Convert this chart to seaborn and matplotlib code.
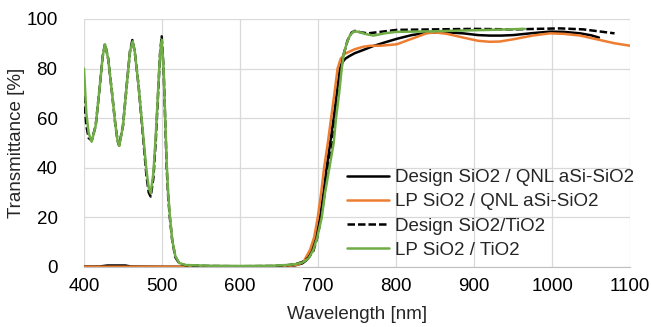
import matplotlib.pyplot as plt
import seaborn as sns

# Design SiO2 / QNL aSi-SiO2
wl_design_qnl = [400, 420, 430, 440, 453, 460, 500, 550, 600, 650, 670, 680, 686, 692, 697, 700,
                 702.6, 707, 711, 715.5, 720, 724, 728, 731, 735, 740, 747, 758, 770, 785, 801,
                 820, 844, 865, 886, 905, 920, 935, 950, 975, 997, 1015, 1036, 1050, 1060]
t_design_qnl = [0.2, 0.2, 0.6, 0.6, 0.6, 0.2, 0.1, 0.1, 0.1, 0.2, 0.6, 1.5, 3, 6.9, 12, 16,
                20, 30, 40, 50, 60, 70, 80, 82.5, 84, 85, 86.2, 87.5, 89, 90.5, 92,
                93.5, 94.6, 94.6, 94.2, 93.5, 93.3, 93.3, 93.5, 94.3, 94.9, 94.8, 94.2, 93.4, 92.5]

# LP SiO2 / QNL aSi-SiO2
wl_lp_qnl = [400, 500, 600, 660, 675, 682, 689.7, 695, 699.6, 704, 707.7, 712.5, 716.7, 721,
             725, 729, 734.6, 747, 758, 767, 780, 801, 820, 839, 850, 865, 886, 905, 920, 933,
             950, 975, 997, 1015, 1036, 1060, 1080, 1100]
t_lp_qnl = [0.1, 0.1, 0.1, 0.3, 1.0, 2.5, 6.9, 12, 20, 30, 40, 50, 60, 70,
            80, 84, 86, 87.8, 88.8, 89.2, 89.2, 89.8, 92, 94.2, 94.6, 94, 92.5, 91.2, 90.8, 90.9,
            91.8, 93.3, 94.2, 94, 93.3, 91.6, 90.2, 89.2]

# Design SiO2/TiO2
wl_design_tio2 = [400, 403, 406, 410, 415, 420, 424, 427, 431, 436, 440, 443, 445, 450, 455, 459,
                  462, 465, 470, 475, 480, 483, 485.5, 489, 492, 495, 497.5, 499.6, 502, 504,
                  506, 508, 510, 513, 517, 522, 530, 560, 600, 640, 660, 670, 680, 688, 694,
                  699, 704, 708.5, 713, 718.5, 722, 726, 729.5, 733, 738, 743, 747, 755, 764,
                  780, 801, 850, 900, 950, 1010, 1040, 1060, 1080]
t_design_tio2 = [69, 57, 52, 51, 57, 72, 85, 90, 84, 70, 58, 51, 49, 57, 74, 87,
                 91.5, 87, 73, 55, 37, 30, 28.4, 36, 51, 70, 86, 93, 80, 60,
                 40, 28, 20, 11, 4, 1.5, 0.7, 0.4, 0.3, 0.4, 0.7, 1.1, 2, 3.8, 6.5,
                 12, 20, 30, 40, 50, 60, 70, 80, 86, 91.5, 94.5, 95.2, 94.6, 94.2,
                 94.8, 95.6, 95.8, 96, 95.8, 96.2, 95.8, 95, 94.2]

# LP SiO2 / TiO2
wl_lp_tio2 = [400, 403, 406, 409.8, 415, 420, 424, 426.9, 431, 436, 440, 443, 445.3, 450, 455,
              459, 462.4, 465, 470, 475, 480, 483, 485.5, 489, 492, 495, 497.5, 499.6, 502,
              504, 506, 508, 510, 513, 517, 522, 530, 560, 600, 640, 660, 670, 680, 688, 694,
              699, 704.7, 709, 714.5, 720, 723, 727, 730.3, 733, 737, 741, 746, 752, 760, 771,
              785, 800, 844, 880, 920, 965]
t_lp_tio2 = [80, 62, 54, 50.5, 57, 72, 85, 89.8, 84, 70, 58, 51, 48.8, 57, 74,
             87, 91, 87, 73, 56, 39, 32, 29.7, 38, 53, 71, 86, 91.7, 80,
             61, 42, 29, 21, 11, 4.5, 1.6, 0.8, 0.5, 0.4, 0.5, 0.8, 1.1, 1.8, 3.5, 6.9,
             12, 20, 30, 40, 50, 60, 70, 80, 86, 90.5, 93.5, 95, 94.8, 94, 93.3,
             94.2, 94.8, 95, 95.3, 95.6, 96]

series = [
    ("Design SiO2 / QNL aSi-SiO2", wl_design_qnl, t_design_qnl, "black", "-"),
    ("LP SiO2 / QNL aSi-SiO2", wl_lp_qnl, t_lp_qnl, "#ED7D31", "-"),
    ("Design SiO2/TiO2", wl_design_tio2, t_design_tio2, "black", (0, (3, 1.2))),
    ("LP SiO2 / TiO2", wl_lp_tio2, t_lp_tio2, "#70AD47", "-"),
]

sns.set_style("whitegrid")
plt.rcParams["font.family"] = ["Liberation Sans", "DejaVu Sans"]
fs = 13.5

fig = plt.figure(figsize=(6.51, 3.27), dpi=100)
ax = fig.add_axes([0.129, 0.1835, 0.839, 0.7585])

for label, wl, t, color, ls in series:
    sns.lineplot(x=wl, y=t, ax=ax, color=color, linestyle=ls, linewidth=1.8,
                 label=label, sort=False)

ax.set_xlim(400, 1100)
ax.set_ylim(0, 100)
ax.set_xticks(range(400, 1101, 100))
ax.set_yticks(range(0, 101, 20))
ax.grid(True, color="#d9d9d9", linewidth=0.9)
for side in ["left", "right", "top"]:
    ax.spines[side].set_visible(False)
ax.spines["bottom"].set_color("#bfbfbf")
ax.tick_params(axis="x", length=0, labelsize=fs, colors="#000000", pad=8)
ax.tick_params(axis="y", length=0, labelsize=fs, colors="#000000", pad=19)
ax.set_xlabel("Wavelength [nm]", fontsize=fs, labelpad=8)
ax.set_ylabel("Transmittance [%]", fontsize=fs, labelpad=1)

ax.legend(loc="center left", bbox_to_anchor=(0.482, 0.214), frameon=False, fontsize=fs,
          handlelength=2.25, handletextpad=0.3, labelspacing=0.38, borderaxespad=0,
          borderpad=0)

fig.savefig("out.png", dpi=100)
